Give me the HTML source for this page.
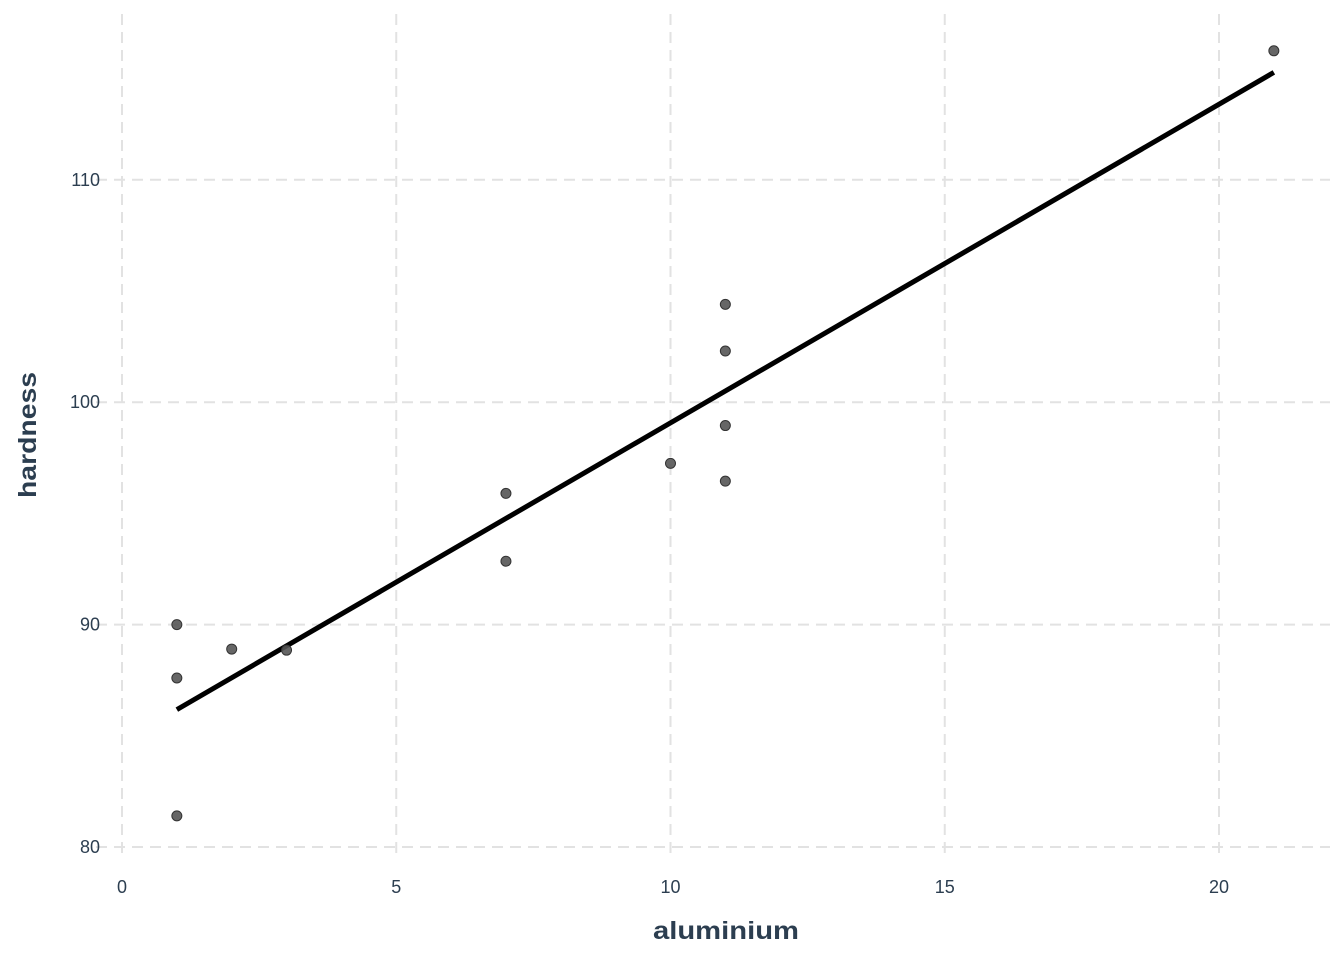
<!DOCTYPE html>
<html><head><meta charset="utf-8"><style>
html,body{margin:0;padding:0;background:#fff;}
svg{display:block;font-family:"Liberation Sans",Arial,sans-serif;}
</style></head><body>
<svg id="chart" width="1344" height="960">
<g id="grid"></g>
<g id="xticks"></g>
<g id="yticks"></g>
<g id="fit"></g>
<g id="pts"></g>
<text x="726" y="939" text-anchor="middle" font-size="25" font-weight="bold" fill="#2c3e50" textLength="146" lengthAdjust="spacingAndGlyphs">aluminium</text>
<text transform="translate(36,435) rotate(-90)" text-anchor="middle" font-size="25" font-weight="bold" fill="#2c3e50" textLength="126" lengthAdjust="spacingAndGlyphs">hardness</text>
</svg>
<script>
const xVals=[1,1,1,2,3,7,7,10,11,11,11,11,21];
const yVals=[90,87.6,81.4,88.9,88.85,95.9,92.85,97.25,104.4,102.3,98.95,96.45,115.8];
const xTicks=[0,5,10,15,20];
const yTicks=[80,90,100,110];
const NS="http://www.w3.org/2000/svg";
function X(v){return 122+v*54.85;}
function Y(v){return 847-(v-80)*22.24;}
function mk(tag,attrs,parent){const e=document.createElementNS(NS,tag);for(const k in attrs)e.setAttribute(k,attrs[k]);parent.appendChild(e);return e;}
const grid=document.getElementById('grid'),xt=document.getElementById('xticks'),yt=document.getElementById('yticks');
xTicks.forEach(t=>{
  const l=mk('line',{x1:X(t),x2:X(t),y1:14,y2:856,stroke:'#e2e2e2','stroke-width':2,'stroke-dasharray':'11,7'},grid);
  
  
  const tx=mk('text',{x:X(t),y:893,'text-anchor':'middle','font-size':18,fill:'#2c3e50'},xt);
  tx.textContent=t;
  
  
});
yTicks.forEach(t=>{
  const l=mk('line',{x1:96,x2:1330,y1:Y(t),y2:Y(t),stroke:'#e2e2e2','stroke-width':2,'stroke-dasharray':'11,7'},grid);
  
  
  const tx=mk('text',{x:100,y:Y(t)+6,'text-anchor':'end','font-size':18,fill:'#2c3e50'},yt);
  tx.textContent=t;
  
  
});
const n=xVals.length;
const mx=xVals.reduce((a,b)=>a+b)/n,my=yVals.reduce((a,b)=>a+b)/n;
let sxy=0,sxx=0;for(let i=0;i<n;i++){sxy+=(xVals[i]-mx)*(yVals[i]-my);sxx+=(xVals[i]-mx)**2;}
const b=sxy/sxx,a=my-b*mx;
const x0=Math.min(...xVals),x1=Math.max(...xVals);
const fl=mk('line',{x1:X(x0),y1:Y(a+b*x0),x2:X(x1),y2:Y(a+b*x1),stroke:'#000','stroke-width':5},document.getElementById('fit'));


const pts=document.getElementById('pts');
for(let i=0;i<n;i++){
  const c=mk('circle',{cx:X(xVals[i]),cy:Y(yVals[i]),r:5,fill:'#555','fill-opacity':0.9,stroke:'#333','stroke-width':1},pts);
  
  
}
</script>
</body></html>
